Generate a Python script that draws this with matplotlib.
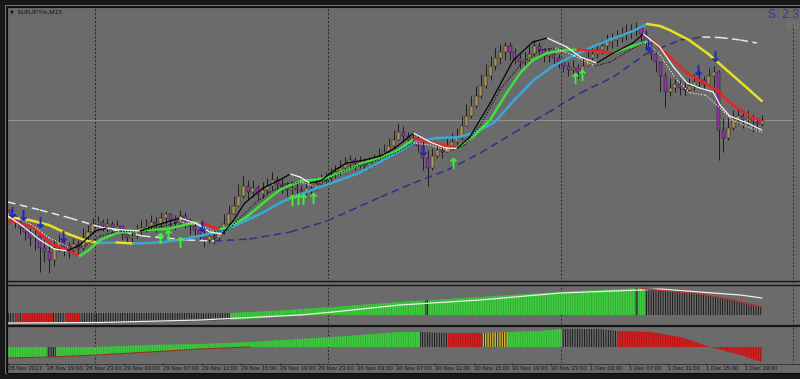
import numpy as np
import matplotlib
matplotlib.use('Agg')
import matplotlib.pyplot as plt
from matplotlib.collections import LineCollection
from matplotlib.patches import Rectangle

plt.rcParams['font.family'] = ['Liberation Sans', 'DejaVu Sans']
plt.rcParams['hatch.linewidth'] = 0.6

# ---- price data, 30 min bars starting 28 Nov 15:00 (x axis = hours) ----
first_open = 132.60
closes = [132.54, 132.48, 132.42, 132.38, 132.32, 132.34, 132.22, 132.18, 132.10, 132.22,
          132.28, 132.24, 132.20, 132.26, 132.22, 132.32, 132.38, 132.46, 132.48, 132.44,
          132.46, 132.42, 132.44, 132.36, 132.32, 132.34, 132.40, 132.42, 132.44, 132.48,
          132.46, 132.52, 132.56, 132.50, 132.48, 132.54, 132.50, 132.44, 132.40, 132.36,
          132.30, 132.34, 132.32, 132.38, 132.46, 132.56, 132.64, 132.74, 132.84, 132.78,
          132.82, 132.76, 132.80, 132.84, 132.90, 132.86, 132.84, 132.80, 132.82, 132.80,
          132.78, 132.82, 132.80, 132.86, 132.90, 132.92, 132.94, 132.98, 133.02, 133.06,
          133.10, 133.06, 133.08, 133.04, 133.07, 133.10, 133.14, 133.18, 133.24, 133.30,
          133.38, 133.34, 133.30, 133.32, 133.24, 133.12, 133.02, 133.14, 133.20, 133.18,
          133.24, 133.28, 133.32, 133.44, 133.54, 133.64, 133.74, 133.84, 133.94, 134.04,
          134.12, 134.18, 134.24, 134.18, 134.12, 134.08, 134.10, 134.16, 134.24, 134.20,
          134.14, 134.16, 134.12, 134.08, 134.04, 134.00, 134.02, 133.98, 134.04, 134.12,
          134.16, 134.20, 134.24, 134.28, 134.30, 134.32, 134.36, 134.38, 134.40, 134.42,
          134.36, 134.28, 134.16, 134.08, 133.94, 133.78, 133.82, 133.86, 133.82, 133.80,
          133.84, 133.88, 133.90, 133.86, 133.94, 133.98, 133.40, 133.32, 133.42, 133.50,
          133.54, 133.50, 133.52, 133.48, 133.46, 133.50]
highs = [132.60, 132.56, 132.50, 132.46, 132.42, 132.40, 132.38, 132.30, 132.26, 132.30,
         132.36, 132.32, 132.28, 132.32, 132.30, 132.42, 132.45, 132.52, 132.54, 132.51,
         132.52, 132.49, 132.50, 132.44, 132.39, 132.40, 132.46, 132.50, 132.51, 132.55,
         132.53, 132.58, 132.59, 132.57, 132.55, 132.60, 132.58, 132.52, 132.47, 132.44,
         132.40, 132.41, 132.40, 132.44, 132.56, 132.65, 132.74, 132.86, 132.94, 132.90,
         132.90, 132.85, 132.88, 132.92, 132.98, 132.94, 132.92, 132.88, 132.89, 132.87,
         132.85, 132.88, 132.86, 132.93, 132.96, 132.98, 133.02, 133.05, 133.10, 133.13,
         133.15, 133.13, 133.14, 133.12, 133.13, 133.16, 133.22, 133.26, 133.32, 133.40,
         133.47, 133.44, 133.38, 133.39, 133.34, 133.30, 133.20, 133.22, 133.26, 133.25,
         133.32, 133.37, 133.42, 133.54, 133.66, 133.74, 133.84, 133.96, 134.06, 134.14,
         134.22, 134.26, 134.28, 134.28, 134.22, 134.16, 134.18, 134.24, 134.30, 134.28,
         134.22, 134.22, 134.20, 134.16, 134.12, 134.08, 134.10, 134.06, 134.12, 134.20,
         134.24, 134.26, 134.30, 134.36, 134.37, 134.40, 134.43, 134.46, 134.46, 134.48,
         134.44, 134.40, 134.30, 134.20, 134.08, 133.98, 133.92, 133.94, 133.90, 133.88,
         133.92, 133.96, 134.00, 133.94, 134.02, 134.04, 134.00, 133.52, 133.52, 133.60,
         133.62, 133.60, 133.60, 133.56, 133.53, 133.55]
lows = [132.48, 132.42, 132.36, 132.30, 132.24, 132.20, 131.98, 132.08, 131.97, 132.04,
        132.18, 132.14, 132.12, 132.16, 132.14, 132.20, 132.30, 132.36, 132.42, 132.39,
        132.38, 132.36, 132.37, 132.30, 132.27, 132.28, 132.32, 132.35, 132.38, 132.40,
        132.38, 132.43, 132.46, 132.42, 132.40, 132.45, 132.42, 132.36, 132.33, 132.30,
        132.23, 132.27, 132.26, 132.30, 132.36, 132.44, 132.56, 132.64, 132.72, 132.70,
        132.73, 132.70, 132.72, 132.76, 132.80, 132.78, 132.77, 132.74, 132.76, 132.74,
        132.73, 132.75, 132.74, 132.80, 132.84, 132.86, 132.88, 132.92, 132.95, 132.99,
        133.02, 133.00, 133.02, 132.99, 133.01, 133.04, 133.08, 133.12, 133.18, 133.22,
        133.30, 133.28, 133.24, 133.25, 133.18, 133.00, 132.84, 133.00, 133.12, 133.12,
        133.18, 133.22, 133.25, 133.30, 133.44, 133.52, 133.62, 133.72, 133.82, 133.90,
        134.00, 134.06, 134.10, 134.10, 134.06, 134.02, 134.02, 134.08, 134.14, 134.12,
        134.08, 134.08, 134.06, 134.02, 133.98, 133.94, 133.96, 133.92, 133.96, 134.04,
        134.10, 134.12, 134.16, 134.20, 134.22, 134.24, 134.28, 134.30, 134.32, 134.34,
        134.28, 134.20, 134.10, 133.98, 133.78, 133.63, 133.74, 133.78, 133.75, 133.74,
        133.77, 133.80, 133.82, 133.80, 133.84, 133.78, 133.10, 133.18, 133.30, 133.40,
        133.46, 133.42, 133.44, 133.38, 133.40, 133.44]

# ---- moving averages (hour, price) ----
slow_t = [0, 2.2, 4.2, 6.2, 8.2, 9.5, 11.2, 12.9, 14.2, 16.2, 18.2, 20.2, 22.2, 24.2,
          26.2, 28.2, 30.2, 32.2, 34.2, 36.2, 38.1, 40.2, 42.2, 44.2, 46.2, 48.1, 50.2,
          52.2, 54.2, 56.2, 58.2, 60.2, 62.2, 64.2, 65.9, 67.2, 68.2, 70.2, 72.2, 74.2,
          76.2, 77.7]
slow_p = [132.53, 132.50, 132.45, 132.36, 132.29, 132.27, 132.275, 132.265, 132.27,
          132.28, 132.31, 132.35, 132.39, 132.48, 132.57, 132.68, 132.76, 132.83, 132.90,
          132.97, 133.07, 133.18, 133.29, 133.32, 133.325, 133.37, 133.48, 133.70, 133.90,
          134.04, 134.14, 134.23, 134.31, 134.38, 134.46, 134.44, 134.40, 134.30, 134.16,
          133.99, 133.82, 133.69]

long_t = [0, 3.3, 6.4, 9.5, 13.9, 18.5, 21.3, 24.9, 29.1, 32.9, 38.4, 41.8, 45.3, 48.7,
          52.1, 55.6, 59.0, 62.4, 65.9, 69.3, 71.6, 73.4, 75.5, 77.2]
long_p = [132.68, 132.60, 132.52, 132.43, 132.34, 132.30, 132.29, 132.31, 132.38, 132.49,
          132.73, 132.87, 133.00, 133.17, 133.37, 133.57, 133.77, 133.93, 134.17, 134.30,
          134.33, 134.325, 134.30, 134.27]

mid_t = [0, 2.6, 4.3, 6.1, 7.4, 8.2, 9.5, 11.2, 13.9, 16.4, 19.1, 19.8, 20.8, 21.9, 22.5,
         24.6, 26.3, 28.0, 29.1, 30.4, 31.4, 33.2, 34.9, 36.6, 38.4, 40.1, 41.8, 42.5,
         44.2, 46.3, 47.9, 49.7, 51.4, 52.8, 54.1, 55.6, 57.6, 58.7, 60.5, 62.4, 63.1,
         64.4, 66.4, 68.2, 70.0, 71.6, 73.1, 74.1, 75.5, 76.8, 77.7]
mid_p = [132.50, 132.43, 132.27, 132.20, 132.14, 132.19, 132.30, 132.37, 132.40, 132.41,
         132.47, 132.475, 132.44, 132.41, 132.42, 132.53, 132.67, 132.80, 132.85, 132.895,
         132.90, 132.93, 133.00, 133.07, 133.12, 133.19, 133.31, 133.30, 133.26, 133.22,
         133.33, 133.50, 133.77, 133.97, 134.10, 134.17, 134.20, 134.205, 134.19, 134.17,
         134.20, 134.24, 134.30, 134.13, 133.97, 133.88, 133.80, 133.70, 133.60, 133.52,
         133.49]

fast_t = [0, 1.5, 3.3, 4.8, 6.1, 7.4, 9.0, 10.2, 11.9, 13.6, 15.7, 17.7, 19.3, 20.8, 22.1,
          23.2, 24.4, 26.3, 28.0, 29.1, 30.1, 31.1, 32.2, 33.7, 34.9, 36.8, 38.4, 39.9,
          41.8, 43.5, 45.1, 46.3, 47.6, 49.7, 52.1, 54.1, 55.6, 57.6, 59.0, 60.7, 62.4,
          64.4, 65.5, 67.2, 68.6, 70.0, 71.3, 72.7, 73.4, 74.4, 76.2, 77.7]
fast_p = [132.54, 132.44, 132.30, 132.21, 132.19, 132.25, 132.39, 132.42, 132.40, 132.39,
          132.46, 132.52, 132.47, 132.38, 132.36, 132.49, 132.67, 132.82, 132.90, 132.96,
          132.93, 132.87, 132.89, 133.00, 133.07, 133.10, 133.14, 133.22, 133.37, 133.28,
          133.22, 133.215, 133.33, 133.67, 134.10, 134.28, 134.32, 134.23, 134.13, 134.07,
          134.17, 134.27, 134.36, 134.23, 134.03, 133.87, 133.82, 133.78, 133.65, 133.54,
          133.47, 133.40]

dot_t = [0, 2.3, 4.3, 6.4, 7.9, 9.5, 11.5, 13.6, 15.7, 17.7, 19.8, 21.3, 22.7, 23.9, 25.5,
         27.0, 28.6, 30.1, 31.6, 33.2, 35.3, 37.8, 39.9, 41.8, 43.5, 45.6, 47.1, 48.7,
         50.7, 52.8, 54.8, 56.4, 58.4, 60.5, 62.1, 64.1, 65.7, 67.2, 68.8, 70.3, 71.9,
         73.4, 74.7, 76.3, 77.7]
dot_p = [132.56, 132.46, 132.32, 132.22, 132.24, 132.34, 132.39, 132.39, 132.43, 132.48,
         132.45, 132.38, 132.40, 132.52, 132.67, 132.78, 132.86, 132.88, 132.84, 132.92,
         133.02, 133.09, 133.17, 133.27, 133.25, 133.19, 133.25, 133.45, 133.80, 134.05,
         134.20, 134.22, 134.14, 134.04, 134.08, 134.20, 134.28, 134.15, 133.92, 133.77,
         133.75, 133.62, 133.50, 133.43, 133.38]

# ---- signal arrows ----
sell_t = [0.4, 1.5, 3.3, 5.7, 20.0, 42.8, 66.0, 71.1, 72.9]
sell_p = [132.58, 132.55, 132.48, 132.34, 132.44, 133.20, 134.25, 134.00, 134.14]
buy_t = [15.7, 16.5, 17.7, 29.3, 29.9, 30.4, 31.4, 45.9, 58.5, 59.2]
buy_p = [132.32, 132.35, 132.28, 132.70, 132.71, 132.71, 132.72, 133.07, 133.92, 133.95]

# ---- indicator 1 ----
ind1_t = [0, 9.5, 19.8, 22.9, 24.9, 29.1, 30.2, 33.5, 40.4, 48.7, 56.9, 65.2, 65.7, 71.3,
          74.7, 77.7]
ind1_top = [11, 11, 11, 11, 12, 14, 15, 17, 22, 27, 32, 36, 35, 30, 24, 17]
ind1_bot = [1, 1, 3, 4, 5, 8, 8.5, 9, 9, 9, 9, 9, 9, 9, 9, 9]
ind1_line_t = [0, 9.5, 19.8, 23.9, 30.1, 33.5, 40.4, 48.7, 56.9, 65.2, 67.2, 71.3, 75.5, 77.7]
ind1_line = [1, 1.5, 4, 6, 9, 12, 19, 24, 31, 34, 35, 32, 29, 26]
ind1_colors = [(0, 22.9, 'black'), (0.7, 1.0, 'red'), (1.4, 3.0, 'red'), (3.1, 4.6, 'red'),
               (5.9, 7.4, 'red'), (22.9, 43.0, 'green'), (43.0, 43.3, 'black'),
               (43.3, 64.6, 'green'), (64.6, 64.9, 'black'), (64.9, 65.7, 'green'),
               (65.7, 77.8, 'black')]

# ---- indicator 2 ----
ind2_t = [0, 4.3, 9.2, 14.6, 19.8, 24.9, 30.1, 33.5, 40.4, 42.5, 45.4, 48.9, 51.5, 54.8,
          57.1, 61.0, 62.8, 66.2, 69.3, 72.4, 75.5, 77.7]
ind2_top = [0, 0, 0, 2, 3, 5, 8, 10, 15, 15, 14, 14, 15, 16, 18, 18, 16, 15, 10, 0, 0, 0]
ind2_bot = [-11, -10, -8, -5, -2, 0, 0, 0, 0, 0, 0, 0, 0, 0, 0, 0, 0, 0, 0, 0, -8, -15]
ind2_colors = [(0, 4.0, 'green'), (4.0, 4.9, 'black'), (4.9, 42.5, 'green'),
               (42.5, 45.4, 'black'), (45.4, 48.9, 'red'), (48.9, 51.5, 'yellow'),
               (51.5, 57.1, 'green'), (57.1, 62.8, 'black'), (62.8, 77.8, 'red')]

tick_hours = list(range(0, 80, 4))
tick_labels = ['28 Nov 2017', '28 Nov 19:00', '28 Nov 23:00', '29 Nov 03:00', '29 Nov 07:00',
               '29 Nov 11:00', '29 Nov 15:00', '29 Nov 19:00', '29 Nov 23:00', '30 Nov 03:00',
               '30 Nov 07:00', '30 Nov 11:00', '30 Nov 15:00', '30 Nov 19:00', '30 Nov 23:00',
               '1 Dec 03:00', '1 Dec 07:00', '1 Dec 11:00', '1 Dec 15:00', '1 Dec 19:00']
day_breaks = [9, 33, 57]

W, H = 800, 379
T_END = 80.82
fig = plt.figure(figsize=(8, 3.79), dpi=100, facecolor='#171717')


def rect(x0, y0, x1, y1):
    return [x0 / W, 1 - y1 / H, (x1 - x0) / W, (y1 - y0) / H]


# background frame in pixel units
bg = fig.add_axes([0, 0, 1, 1], zorder=0)
bg.set_xlim(0, W)
bg.set_ylim(H, 0)
bg.axis('off')
bg.add_patch(Rectangle((5, 5), 800, 368, facecolor='none', edgecolor='#858585', lw=0.6))
bg.add_patch(Rectangle((7, 7), 800, 366, facecolor='#6b6b6b', edgecolor='#0c0c0c', lw=0.8))
bg.hlines([281, 284.5], 7, 800, colors='#161616', lw=1.0)
bg.hlines(326, 7, 800, colors='#161616', lw=1.6)
bg.hlines(363.5, 7, 800, colors='#303030', lw=0.6)
bg.vlines(792.5, 24, 363, colors='#2a2a2a', lw=0.7, linestyles=(0, (2, 2)))

ax = fig.add_axes(rect(8, 8, 792, 279), zorder=1)
ax1 = fig.add_axes(rect(8, 286, 792, 324), zorder=1)
ax2 = fig.add_axes(rect(8, 327, 792, 363), zorder=1)
ax.set_ylim(131.91, 134.62)
ax1.set_ylim(0, 38)
ax2.set_ylim(-16, 20)
for a in (ax, ax1, ax2):
    a.set_facecolor('none')
    a.set_xlim(0, T_END)
    for s in a.spines.values():
        s.set_visible(False)
    a.set_yticks([])
    a.set_xticks([])
    for d in day_breaks:
        a.axvline(d, color='#262626', lw=0.7, ls=(0, (2, 2)), zorder=0.5)


def two_tone(a, x, y, up, down, **kw):
    x = np.asarray(x, float)
    y = np.asarray(y, float)
    pts = np.column_stack([x, y])
    segs = np.stack([pts[:-1], pts[1:]], axis=1)
    cols = [up if d >= 0 else down for d in np.diff(y)]
    a.add_collection(LineCollection(segs, colors=cols, **kw))


# candles
closes = np.array(closes)
opens = np.r_[first_open, closes[:-1]]
t = 0.25 + 0.5 * np.arange(len(closes))
up = closes >= opens
ax.axhline(closes[-1], color='#9c9c9c', lw=0.6, zorder=1)
ax.vlines(t, lows, highs, color='#121212', lw=0.6, zorder=2)
body_lo = np.minimum(opens, closes)
body_h = np.maximum(np.abs(closes - opens), 0.008)
ax.bar(t, body_h, width=0.32, bottom=body_lo, color=np.where(up, '#ab9658', '#9433ad'),
       edgecolor='#1e1a12', linewidth=0.35, zorder=3)

# moving averages
two_tone(ax, long_t, long_p, '#30308a', '#e6e6e6', lw=1.1, linestyles=(0, (5, 3)), zorder=4)
two_tone(ax, slow_t, slow_p, '#38a8d8', '#e8e020', lw=1.8, capstyle='round', zorder=5)
two_tone(ax, mid_t, mid_p, '#3ee03e', '#e82424', lw=1.8, capstyle='round', zorder=6)
two_tone(ax, dot_t, dot_p, '#0a0a0a', '#f0f0f0', lw=0.8, linestyles=(0, (1, 1.5)), zorder=7)
two_tone(ax, fast_t, fast_p, '#050505', '#f2f2f2', lw=0.9, capstyle='round', zorder=8)

ax.scatter(sell_t, sell_p, marker=r'$\downarrow$', s=60, color='#1b2ab8',
           linewidths=0.4, edgecolors='#1b2ab8', zorder=9)
ax.scatter(buy_t, buy_p, marker=r'$\uparrow$', s=60, color='#3cf03c',
           linewidths=0.4, edgecolors='#3cf03c', zorder=9)

# histogram panels
fills = {
    'black': dict(facecolor='none', edgecolor='#0e0e0e', hatch='|' * 7),
    'red': dict(facecolor='#d42020', edgecolor='#a81616', hatch='|' * 7),
    'green': dict(facecolor='#40cc40', edgecolor='#32a832', hatch='|' * 7),
    'yellow': dict(facecolor='#c9b43c', edgecolor='#1a1a1a', hatch='|' * 7),
}


def colored_fill(a, x, lo, hi, parts):
    for x0, x1, kind in parts:
        poly = a.fill_between(x, lo, hi, linewidth=0, zorder=2, **fills[kind])
        clip = Rectangle((x0, -100), x1 - x0, 200, transform=a.transData)
        poly.set_clip_path(clip)


colored_fill(ax1, ind1_t, ind1_bot, ind1_top, ind1_colors)
ax1.plot(ind1_line_t, ind1_line, color='#eeeeee', lw=0.9, zorder=3)
mask = np.array(ind1_t) >= 65.2
ax1.plot(np.array(ind1_t)[mask], np.array(ind1_top)[mask], color='#c42a2a', lw=0.9, zorder=3)

colored_fill(ax2, ind2_t, ind2_bot, ind2_top, ind2_colors)
mask2 = np.array(ind2_t) <= 25
ax2.plot(np.array(ind2_t)[mask2], np.array(ind2_bot)[mask2], color='#9a3020', lw=0.8, zorder=3)

# time axis
ax2.set_xticks(tick_hours)
ax2.set_xticklabels(tick_labels, ha='left', fontsize=4.3, color='#141414')
ax2.tick_params(axis='x', length=1.5, width=0.5, color='#202020', pad=0.8, direction='out')

# header texts
bg.text(9.5, 11.5, '\u25bc', fontsize=3.5, color='#151515', family='DejaVu Sans', va='center')
bg.text(17, 11.5, 'EURJPYm,M15', fontsize=4.6, color='#151515', va='center')
bg.text(799, 14.5, 'S: 2:3', fontsize=8.6, color='#2438c0', va='center', ha='right')
bg.text(799, 26, '0:0', fontsize=7, color='#7d7d7d', va='center', ha='right')

fig.savefig('out.png', dpi=100, facecolor=fig.get_facecolor())
